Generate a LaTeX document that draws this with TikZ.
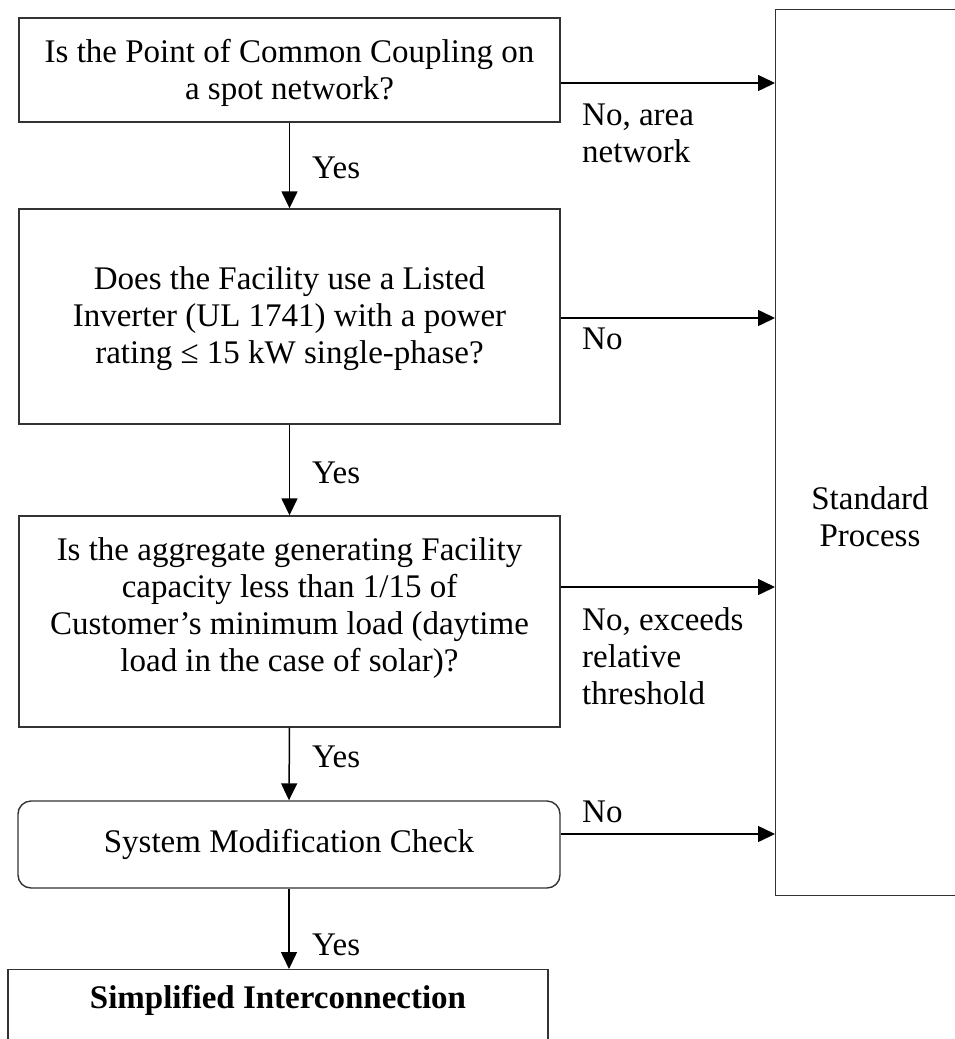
\documentclass[tikz,border=0pt]{standalone}
\usepackage{fontspec}
\setmainfont{Liberation Serif}
\usetikzlibrary{arrows.meta,calc}
\begin{document}
\begin{tikzpicture}[x=1pt,y=-1pt,
  every node/.style={font=\fontsize{33}{37}\selectfont},
  box/.style={draw=black!80,line width=1.4pt,rectangle,inner sep=0pt,align=center},
  txt/.style={inner sep=0pt,align=center},
  arr/.style={draw=black,line width=1.5pt,-{Triangle[length=17pt,width=16pt]}},
  lbl/.style={inner sep=0pt,align=left,anchor=west},
]
\useasboundingbox (0,0) rectangle (955,1039);
\clip (0,0) rectangle (955,1039);

% flow boxes
\node[box,minimum width=541,minimum height=104] (b1) at (289.5,70) {};
\node[txt] (t1) at (289.5,72.5) {Is the Point of Common Coupling on\\a spot network?};
\node[box,minimum width=541,minimum height=215] (b2) at (289.5,316.5) {};
\node[txt] (t2) at (289.5,319)
  {Does the Facility use a Listed\\Inverter (UL 1741) with a power\\rating ≤ 15 kW single-phase?};
\node[box,minimum width=541,minimum height=211] (b3) at (289.5,621.5) {};
\node[txt] (t3) at (289.5,608)
  {Is the aggregate generating Facility\\capacity less than 1/15 of\\Customer’s minimum load (daytime\\load in the case of solar)?};
\node[box,rounded corners=13pt,minimum width=542,minimum height=87] (b4) at (289,844.5)
  {System Modification Check};
\node[box,minimum width=540,minimum height=140,anchor=north] (b5) at (278,969) {};
\node[txt] (t5) at (278,1000) {\bfseries Simplified Interconnection};

% standard process box
\node[box,minimum width=200,minimum height=886,anchor=north west] (sp) at (775,9) {};
\node[txt] (spt) at (870,517) {Standard\\Process};

% vertical "Yes" arrows
\draw[arr] (b1.south) -- (b2.north);
\draw[arr] (b2.south) -- (b3.north);
\draw[arr] (b3.south) -- (b4.north);
\draw[arr] (b4.south) -- (b4.south |- b5.north);
\node[lbl] (y1) at (312,168) {Yes};
\node[lbl] (y2) at (312,473) {Yes};
\node[lbl] (y3) at (312,757) {Yes};
\node[lbl] (y4) at (312,945) {Yes};

% horizontal "No" arrows
\path ([yshift=-13pt]b1.east) coordinate (a1);
\path ([yshift=-1.5pt]b2.east) coordinate (a2);
\path ([yshift=34.5pt]b3.east) coordinate (a3);
\path ([yshift=10.5pt]b4.east) coordinate (a4);
\draw[arr] (a1) -- (a1 -| sp.west);
\draw[arr] (a2) -- (a2 -| sp.west);
\draw[arr] (a3) -- (a3 -| sp.west);
\draw[arr] (a4) -- (a4 -| sp.west);
\node[lbl] (n1) at (582,133.5) {No, area\\network};
\node[lbl] (n2) at (582,339) {No};
\node[lbl] (n3) at (582,656) {No, exceeds\\relative\\threshold};
\node[lbl] (n4) at (582,812) {No};
\end{tikzpicture}
\end{document}
